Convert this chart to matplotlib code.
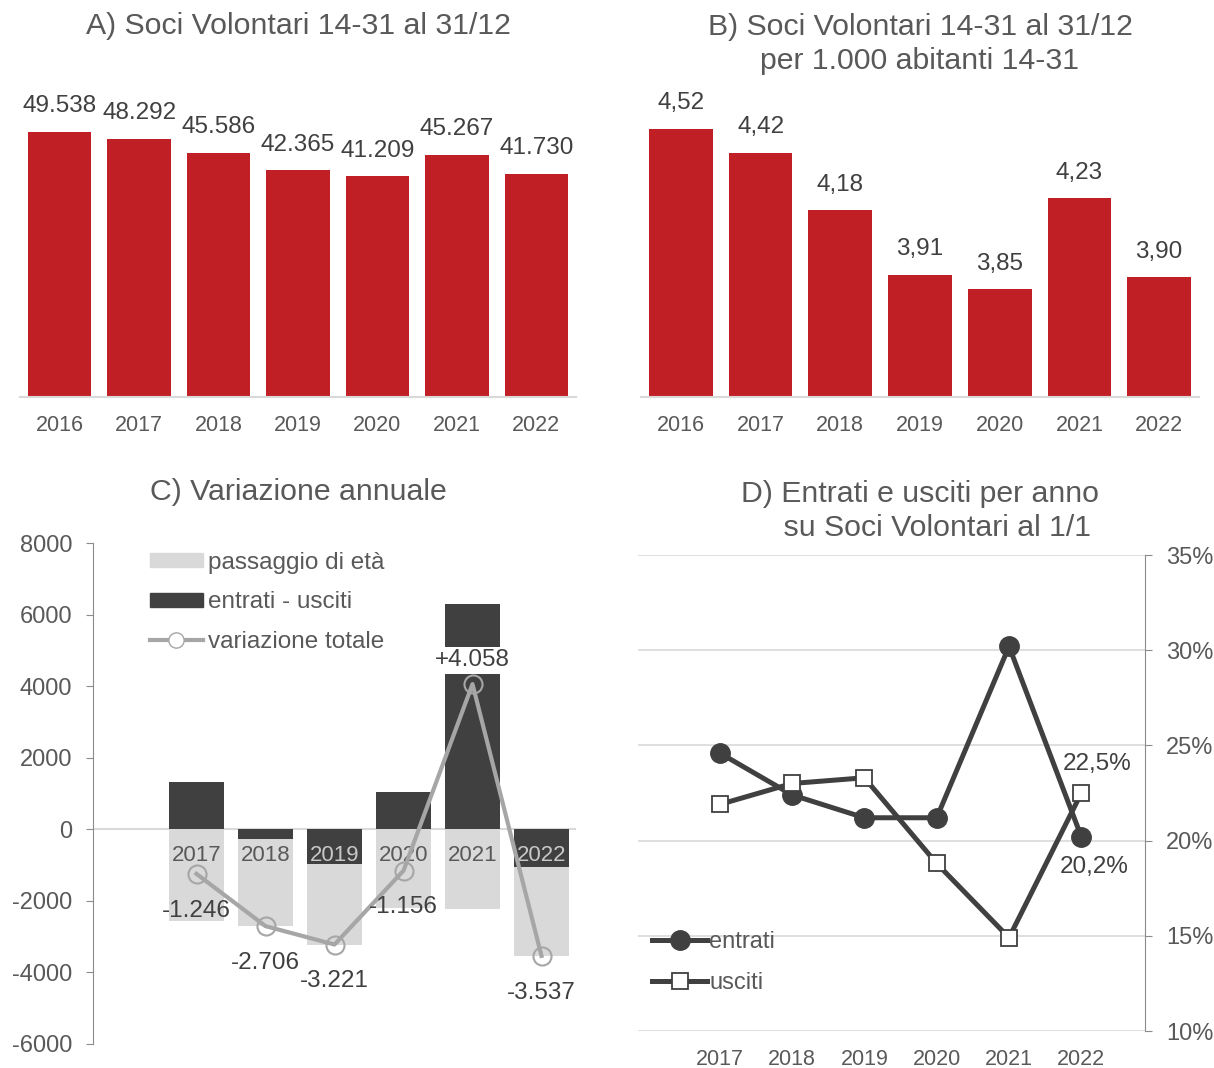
import matplotlib.pyplot as plt
from matplotlib.patches import Patch
from matplotlib.lines import Line2D

plt.rcParams['font.family'] = ['Liberation Sans', 'DejaVu Sans']
plt.rcParams['axes.unicode_minus'] = False

# --- data ---
anni_ab = ['2016', '2017', '2018', '2019', '2020', '2021', '2022']
soci = [49538, 48292, 45586, 42365, 41209, 45267, 41730]
soci_per_1000 = [4.52, 4.42, 4.18, 3.91, 3.85, 4.23, 3.90]

anni_c = ['', '2017', '2018', '2019', '2020', '2021', '2022']
passaggio_eta = [0, -2558, -2438, -2263, -2200, -2235, -2483]
entrati_usciti = [0, 1312, -268, -958, 1044, 6293, -1054]
variazione = [None, -1246, -2706, -3221, -1156, 4058, -3537]

anni_d = ['2017', '2018', '2019', '2020', '2021', '2022']
entrati = [24.6, 22.4, 21.2, 21.2, 30.2, 20.2]
usciti = [21.9, 23.0, 23.3, 18.8, 14.9, 22.5]

RED = '#C01F26'
DARK = '#404040'
LIGHT = '#D9D9D9'
LINEGRAY = '#A6A6A6'
TXT = '#595959'

W, H = 1214, 1068
fig = plt.figure(figsize=(W / 100, H / 100), dpi=100)


def box(x0, y0, x1, y1):
    return [x0 / W, 1 - y1 / H, (x1 - x0) / W, (y1 - y0) / H]


def it_num(v, dec=0):
    s = f'{abs(v):,.{dec}f}'.replace(',', 'X').replace('.', ',').replace('X', '.')
    return ('-' if v < 0 else '') + s


def bar_panel(ax, values, ylim, dec):
    x = range(len(values))
    base = ylim[0]
    ax.bar(x, [v - base for v in values], bottom=base, width=0.8, color=RED, zorder=2)
    for xi, v in zip(x, values):
        ax.annotate(it_num(v, dec), (xi, v), xytext=(0, 18.5), textcoords='offset points',
                    ha='center', va='center', fontsize=17.5, color=DARK)
    ax.set_xlim(-0.5, len(values) - 0.5)
    ax.set_ylim(*ylim)
    ax.set_xticks(list(x))
    ax.set_xticklabels(anni_ab, fontsize=15.5, color=TXT)
    ax.tick_params(axis='x', length=0, pad=13)
    ax.set_yticks([])
    for s in ['left', 'right', 'top']:
        ax.spines[s].set_visible(False)
    ax.spines['bottom'].set_color(LIGHT)
    ax.spines['bottom'].set_linewidth(1.5)


# A) soci volontari
axA = fig.add_axes(box(20, 85, 576, 397))
bar_panel(axA, soci, (0, 58300), 0)

# B) per 1.000 abitanti
axB = fig.add_axes(box(641, 85, 1199, 397))
bar_panel(axB, soci_per_1000, (3.4, 4.704), 2)

fig.text(298 / W, 1 - 26 / H, 'A) Soci Volontari 14-31 al 31/12', ha='center', va='center',
         fontsize=21.8, color=TXT)
fig.text(920 / W, 1 - 44 / H, 'B) Soci Volontari 14-31 al 31/12\nper 1.000 abitanti 14-31',
         ha='center', va='center', fontsize=21.8, color=TXT, linespacing=1.27)

# C) variazione annuale
axC = fig.add_axes(box(93, 543, 576, 1044))
xc = list(range(len(anni_c)))
axC.bar(xc, entrati_usciti, width=0.8, color=DARK, zorder=2)
eta_bottom = [min(e, 0) for e in entrati_usciti]
axC.bar(xc, passaggio_eta, bottom=eta_bottom, width=0.8, color=LIGHT, zorder=2)
xv = [x for x, v in zip(xc, variazione) if v is not None]
yv = [v for v in variazione if v is not None]
axC.plot(xv, yv, color=LINEGRAY, lw=3, marker='o', markersize=13, markerfacecolor='none',
         markeredgecolor=LINEGRAY, markeredgewidth=1.5, zorder=4)
for x, v in zip(xv, yv):
    if v > 0:
        axC.annotate('+' + it_num(v), (x, v), xytext=(0, 17), textcoords='offset points',
                     ha='center', va='center', fontsize=17.5, color=DARK, zorder=5,
                     bbox=dict(boxstyle='square,pad=0.1', fc='white', ec='none'))
    else:
        axC.annotate(it_num(v), (x, v), xytext=(0, -26.5), textcoords='offset points',
                     ha='center', va='center', fontsize=17.5, color=DARK, zorder=5)

# year labels sit on the zero line, over the bars
for x, lab, e in zip(xc, anni_c, entrati_usciti):
    axC.annotate(lab, (x, 0), xytext=(0, -19), textcoords='offset points', ha='center',
                 va='center', fontsize=16, zorder=3,
                 color='#C8C8C8' if e < -500 else TXT)

axC.set_xlim(-0.5, 6.5)
axC.set_ylim(-6000, 8000)
axC.set_yticks(range(-6000, 8001, 2000))
axC.tick_params(axis='y', labelsize=17, labelcolor=TXT, color='#8C8C8C', length=5, pad=10)
axC.axhline(0, color=LIGHT, lw=1.5, zorder=1)
axC.set_xticks([])
axC.spines['bottom'].set_visible(False)
axC.spines['left'].set_color('#8C8C8C')
axC.spines['right'].set_visible(False)
axC.spines['top'].set_visible(False)

handles_c = [Patch(color=LIGHT), Patch(color=DARK),
             Line2D([], [], color=LINEGRAY, lw=3, marker='o', markersize=11,
                    markerfacecolor='white', markeredgecolor=LINEGRAY)]
axC.legend(handles_c, ['passaggio di età', 'entrati - usciti', 'variazione totale'],
           loc='upper left', bbox_to_anchor=(140 / W, 1 - 542 / H), bbox_transform=fig.transFigure,
           frameon=False, fontsize=17.5, labelcolor=TXT, handlelength=2.2, handleheight=0.5,
           handletextpad=0.2, labelspacing=0.72, borderaxespad=0)

fig.text(298 / W, 1 - 492 / H, 'C) Variazione annuale', ha='center', va='center',
         fontsize=21.8, color=TXT)

# D) entrati e usciti
axD = fig.add_axes(box(638, 555, 1145, 1031))
xd = list(range(len(anni_d)))
axD.plot(xd, entrati, color=DARK, lw=3.6, marker='o', markersize=14, zorder=3,
         label='entrati')
axD.plot(xd, usciti, color=DARK, lw=3.6, marker='s', markersize=11, markerfacecolor='white',
         markeredgecolor=DARK, markeredgewidth=1.3, zorder=4, label='usciti')
axD.annotate(it_num(usciti[-1], 1) + '%', (xd[-1], usciti[-1]),
             xytext=(11, 21), textcoords='offset points', ha='center', va='center',
             fontsize=17.5, color=DARK)
axD.annotate(it_num(entrati[-1], 1) + '%', (xd[-1], entrati[-1]),
             xytext=(9, -22), textcoords='offset points', ha='center', va='center',
             fontsize=17.5, color=DARK)
axD.set_xlim(-1.13, 5.88)
axD.set_ylim(10, 35)
axD.set_yticks(range(10, 36, 5))
axD.set_yticklabels([f'{v}%' for v in range(10, 36, 5)])
axD.yaxis.tick_right()
axD.tick_params(axis='y', labelsize=17, labelcolor=TXT, color='#8C8C8C', length=5, pad=10)
axD.grid(axis='y', color=LIGHT, lw=1.2)
axD.set_axisbelow(True)
axD.set_xticks(xd)
axD.set_xticklabels(anni_d, fontsize=15.5, color=TXT)
axD.tick_params(axis='x', length=0, pad=13)
for s in ['left', 'top', 'bottom']:
    axD.spines[s].set_visible(False)
axD.spines['right'].set_color('#8C8C8C')
axD.legend(loc='upper left', bbox_to_anchor=(643 / W, 1 - 922 / H), bbox_transform=fig.transFigure,
           frameon=False, fontsize=17, labelcolor=TXT, handlelength=2.3, handletextpad=0.1,
           labelspacing=0.8, borderaxespad=0)

fig.text(920 / W, 1 - 511 / H, 'D) Entrati e usciti per anno\n    su Soci Volontari al 1/1',
         ha='center', va='center', fontsize=21.8, color=TXT, linespacing=1.27)

fig.savefig('out.png', dpi=100, facecolor='white')
